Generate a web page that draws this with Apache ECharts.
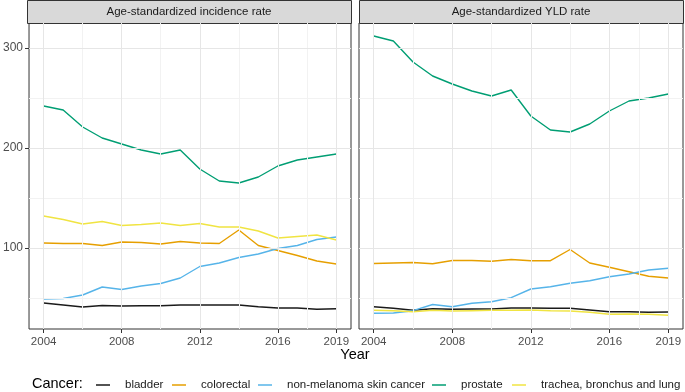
<!DOCTYPE html>
<html>
<head>
<meta charset="utf-8">
<script src="https://cdn.jsdelivr.net/npm/echarts@6/dist/echarts.min.js"></script>
<style>
  html, body { margin: 0; padding: 0; background: #fff; }
  #chart { width: 685px; height: 392px; }
</style>
</head>
<body>
<div id="chart"></div>
<script>
const years = [2004, 2005, 2006, 2007, 2008, 2009, 2010, 2011, 2012, 2013, 2014, 2015, 2016, 2017, 2018, 2019];
const panelTitles = ["Age-standardized incidence rate", "Age-standardized YLD rate"];
const cancers = ["bladder", "colorectal", "non-melanoma skin cancer", "prostate", "trachea, bronchus and lung"];
const colors = ["#1a1a1a", "#E69F00", "#56B4E9", "#009E73", "#F0E442"];

// incidence rate (left panel)
const incBladder = [45, 43, 41, 42.5, 42, 42.3, 42.3, 43, 43, 43, 43, 41.3, 40, 40, 38.7, 39.3];
const incColorectal = [105, 104.5, 104.5, 102.5, 106, 105.5, 104, 106.5, 105, 104.5, 118, 102.5, 97.5, 92.5, 87, 84];
const incSkin = [49, 49.5, 53, 61, 58.5, 62, 64.5, 70, 81.5, 85, 90.5, 94, 99.5, 102.5, 108.5, 111];
const incProstate = [242, 238, 221, 210, 204, 198, 194, 198, 179, 167, 165, 171, 182, 188, 191, 194];
const incLung = [132, 128.5, 124, 126.5, 122.5, 123.5, 125, 122.5, 124.5, 121, 121, 117, 110, 111.5, 113, 108];

// YLD rate (right panel)
const yldBladder = [41.3, 39.7, 37.7, 39.3, 38.7, 39, 39, 40, 40, 39.7, 39.7, 38, 36.3, 36.3, 35.7, 36];
const yldColorectal = [84.5, 85, 85.5, 84.3, 87.5, 87.5, 86.7, 88.5, 87.3, 87.3, 98.5, 85, 80.7, 76.3, 71.7, 70];
const yldSkin = [34.7, 35, 37.3, 43.5, 41.3, 44.7, 46.3, 50.3, 59, 61.3, 64.7, 67.3, 71.3, 74, 78, 79.7];
const yldProstate = [312, 307, 286, 272, 264, 257, 252, 258, 232, 218, 216, 224, 237, 247, 250, 254];
const yldLung = [37.7, 37.3, 36.3, 37.7, 37, 37.3, 37.7, 37.7, 38, 37.3, 37, 35.7, 33.7, 34, 33.7, 32.7];

const panelData = [
  [incBladder, incColorectal, incSkin, incProstate, incLung],
  [yldBladder, yldColorectal, yldSkin, yldProstate, yldLung]
];

const xBreaks = [2004, 2008, 2012, 2016, 2019];
const xMinor = [2006, 2010, 2014, 2017.5];
const yBreaks = [100, 200, 300];
const yMinor = [50, 150, 250];

const font = "Liberation Sans, Arial, sans-serif";
const panelLeft = [27, 359];
const panelWidth = 324;
const panelTop = 23;
const panelBottom = 329;
const legendLeft = [96, 172, 258, 432, 512];

const chart = echarts.init(document.getElementById("chart"));

const grids = panelLeft.map(l => ({
  left: l, top: panelTop, width: panelWidth, height: panelBottom - panelTop,
  show: true, borderColor: "#333", borderWidth: 1, backgroundColor: "transparent"
}));

const xAxes = panelLeft.map((l, i) => ({
  type: "value", gridIndex: i, min: 2003.25, max: 2019.75,
  axisLine: { show: false },
  splitLine: { show: false },
  axisTick: { show: true, customValues: xBreaks, length: 4, lineStyle: { color: "#333" } },
  axisLabel: {
    customValues: xBreaks, color: "#4d4d4d", fontSize: 11.5, fontFamily: font, margin: 7,
    formatter: v => String(v)
  }
}));

const yAxes = panelLeft.map((l, i) => ({
  type: "value", gridIndex: i, min: 19, max: 325,
  axisLine: { show: false },
  splitLine: { show: false },
  axisTick: { show: i === 0, customValues: yBreaks, length: 4, lineStyle: { color: "#333" } },
  axisLabel: { show: i === 0, customValues: yBreaks, color: "#4d4d4d", fontSize: 12, fontFamily: font, margin: 6 }
}));

const series = [];
panelLeft.forEach((l, p) => {
  // background grid lines
  const lines = [];
  xMinor.forEach(v => lines.push({ xAxis: v, lineStyle: { color: "#f2f2f2", width: 1, type: "solid" } }));
  yMinor.forEach(v => lines.push({ yAxis: v, lineStyle: { color: "#f2f2f2", width: 1, type: "solid" } }));
  xBreaks.forEach(v => lines.push({ xAxis: v, lineStyle: { color: "#e6e6e6", width: 1, type: "solid" } }));
  yBreaks.forEach(v => lines.push({ yAxis: v, lineStyle: { color: "#e6e6e6", width: 1, type: "solid" } }));
  series.push({
    name: "grid" + p, type: "line", xAxisIndex: p, yAxisIndex: p, z: 1, silent: true,
    symbol: "none", lineStyle: { opacity: 0 },
    data: [[years[0], yBreaks[0]]],
    markLine: { silent: true, symbol: ["none", "none"], label: { show: false }, animation: false, data: lines }
  });
  cancers.forEach((name, c) => {
    series.push({
      name: name, type: "line", xAxisIndex: p, yAxisIndex: p, z: 3,
      showSymbol: false, symbol: "none",
      lineStyle: { color: colors[c], width: 1.4 },
      itemStyle: { color: colors[c] },
      data: years.map((y, k) => [y, panelData[p][c][k]])
    });
  });
});

const graphics = [];
panelLeft.forEach((l, p) => {
  graphics.push({
    type: "rect", left: l, top: 0,
    shape: { x: 0, y: 0, width: panelWidth, height: panelTop },
    style: { fill: "#d9d9d9", stroke: "#333", lineWidth: 1 }
  });
  graphics.push({
    type: "text", x: l + panelWidth / 2, y: 12,
    style: { text: panelTitles[p], fill: "#1a1a1a", font: "11.5px " + font, textAlign: "center", textVerticalAlign: "middle" }
  });
});
graphics.push({
  type: "text", x: 355, y: 355,
  style: { text: "Year", fill: "#000", font: "14.5px " + font, textAlign: "center", textVerticalAlign: "middle" }
});
graphics.push({
  type: "text", x: 32, y: 384,
  style: { text: "Cancer:", fill: "#000", font: "14.5px " + font, textAlign: "left", textVerticalAlign: "middle" }
});

const legends = cancers.map((n, i) => ({
  data: [{ name: n, icon: "rect" }],
  left: legendLeft[i], top: 379, padding: 0,
  itemWidth: 14, itemHeight: 1.5,
  textStyle: { color: "#1a1a1a", fontSize: 11.5, fontFamily: font, padding: [0, 0, 0, 10] }
}));

chart.setOption({
  animation: false,
  backgroundColor: "#fff",
  grid: grids,
  xAxis: xAxes,
  yAxis: yAxes,
  series: series,
  graphic: graphics,
  legend: legends
});
</script>
</body>
</html>
